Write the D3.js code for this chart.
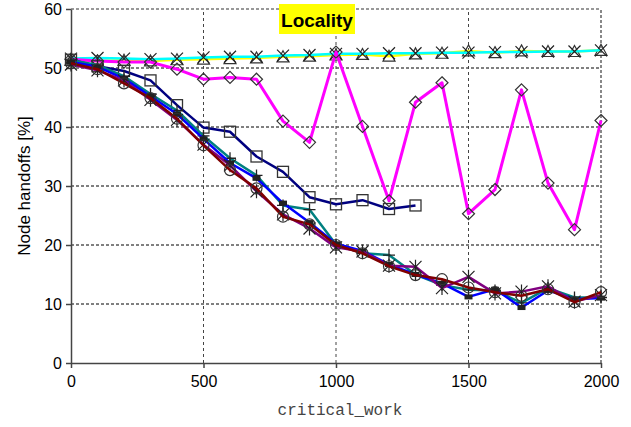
<!DOCTYPE html>
<html>
<head>
<meta charset="utf-8">
<script src="https://cdn.jsdelivr.net/npm/d3@7"></script>
<style>
  html, body { margin: 0; padding: 0; background: #fff; }
  svg { display: block; }
</style>
</head>
<body>
<svg id="chart" width="631" height="427"></svg>
<script>
const xValues = [0,100,200,300,400,500,600,700,800,900,1000,1100,1200,1300,1400,1500,1600,1700,1800,1900,2000];
const xTicks = [0,500,1000,1500,2000];
const yTicks = [0,10,20,30,40,50,60];

const yellowTri = [51.3,51.2,51.3,51.2,51.4,51.5,51.6,51.7,51.9,52.0,52.2,52.3,52.0,52.4,52.5,52.9,52.6,52.9,52.8,52.8,53.0];
const cyanX     = [51.6,51.7,51.6,51.5,51.6,51.8,51.9,51.9,52.1,52.2,52.4,52.4,52.5,52.5,52.6,52.6,52.7,52.7,52.8,52.8,53.0];
const magentaDiamond = [51.5,51.2,51.0,51.0,49.8,48.1,48.4,48.1,41.0,37.4,52.7,40.1,27.5,44.2,47.5,25.3,29.4,46.3,30.5,22.6,41.1];
const navySquare = [51.4,50.3,49.5,47.9,43.7,39.9,39.2,35.0,32.4,28.1,26.9,27.6,26.1,26.7];
const tealPlus   = [51.3,50.5,48.6,45.6,42.8,38.5,34.7,31.8,26.7,26.0,20.1,18.6,18.3,15.0,13.2,12.4,12.3,10.2,12.7,11.1,11.1];
const blueDash   = [51.0,50.2,48.2,45.2,42.2,38.0,33.9,31.3,27.1,23.8,20.2,19.0,16.7,15.0,13.5,11.2,12.5,9.4,12.3,10.8,11.0];
const purpleStar = [50.6,49.6,47.9,44.6,41.2,37.0,33.5,29.1,25.2,22.8,19.6,18.9,16.5,16.3,12.7,14.6,11.8,12.1,13.0,10.4,11.5];
const maroonCircle = [50.8,49.8,47.4,44.9,41.4,36.9,32.7,29.6,24.8,23.5,20.0,18.6,16.4,14.9,14.2,12.8,12.0,11.4,12.5,10.3,12.0];

const series = [
  {name:"yellow", values:yellowTri, color:"#FFFF00", marker:"triangle", width:2.5},
  {name:"cyan", values:cyanX, color:"#00FFFF", marker:"x", width:2.5},
  {name:"magenta", values:magentaDiamond, color:"#FF00FF", marker:"diamond", width:3},
  {name:"navy", values:navySquare, color:"#000080", marker:"square", width:2.5},
  {name:"teal", values:tealPlus, color:"#008080", marker:"plus", width:2.5},
  {name:"blue", values:blueDash, color:"#0000FF", marker:"dash", width:2.5},
  {name:"purple", values:purpleStar, color:"#800080", marker:"star", width:2.5},
  {name:"maroon", values:maroonCircle, color:"#800000", marker:"circle", width:2.5}
];

const svg = d3.select("#chart");
const x = d3.scaleLinear().domain([0,2000]).range([71,601]);
const y = d3.scaleLinear().domain([0,60]).range([363,9]);

// grid
const grid = svg.append("g");
yTicks.filter(v => v > 0 && v < 60).forEach(v => {
  grid.append("line").attr("x1", x(0)).attr("x2", x(2000)).attr("y1", y(v)).attr("y2", y(v))
    .attr("stroke", "#000").attr("stroke-width", 1).attr("stroke-dasharray", "3,2");
});
grid.append("line").attr("x1", x(0)).attr("x2", x(2000)).attr("y1", y(60)).attr("y2", y(60))
  .attr("stroke", "#777").attr("stroke-width", 1.5).attr("stroke-dasharray", "3,2");
xTicks.filter(v => v > 0 && v < 2000).forEach(v => {
  grid.append("line").attr("x1", x(v)).attr("x2", x(v)).attr("y1", y(0)).attr("y2", y(60))
    .attr("stroke", "#444").attr("stroke-width", 1).attr("stroke-dasharray", "3,3");
});
grid.append("line").attr("x1", x(2000)).attr("x2", x(2000)).attr("y1", y(0)).attr("y2", y(60))
  .attr("stroke", "#888").attr("stroke-width", 2).attr("stroke-dasharray", "3,2");

// axes
const yAxis = svg.append("g").attr("transform", `translate(${x(0)},0)`)
  .call(d3.axisLeft(y).tickValues(yTicks).tickSize(5).tickPadding(4).tickSizeOuter(0));
const xAxis = svg.append("g").attr("transform", `translate(0,${y(0)})`)
  .call(d3.axisBottom(x).tickValues(xTicks).tickSize(5).tickPadding(8).tickSizeOuter(0).tickFormat(d3.format("d")));
[yAxis, xAxis].forEach(a => {
  a.selectAll("path.domain").attr("stroke", "#444").attr("stroke-width", 1.5);
  a.selectAll(".tick line").attr("stroke", "#444").attr("stroke-width", 1.5);
  a.selectAll("text").attr("fill", "#000").attr("font-family", "Liberation Sans, Arial, sans-serif").attr("font-size", 16);
});

// series
const line = d3.line().x((d,i) => x(xValues[i])).y(d => y(d));
function drawMarker(g, type, cx, cy) {
  const s = "#333";
  if (type === "triangle") {
    g.append("path").attr("d", `M${cx},${cy-6}L${cx+6},${cy+5}L${cx-6},${cy+5}Z`).attr("fill","none").attr("stroke",s).attr("stroke-width",1.2);
  } else if (type === "x") {
    g.append("path").attr("d", `M${cx-6},${cy-6}L${cx+6},${cy+6}M${cx-6},${cy+6}L${cx+6},${cy-6}`).attr("stroke","#222").attr("stroke-width",1.2);
  } else if (type === "diamond") {
    g.append("path").attr("d", `M${cx},${cy-6}L${cx+6},${cy}L${cx},${cy+6}L${cx-6},${cy}Z`).attr("fill","none").attr("stroke",s).attr("stroke-width",1.2);
  } else if (type === "square") {
    g.append("rect").attr("x", cx-5.5).attr("y", cy-5.5).attr("width", 11).attr("height", 11).attr("fill","none").attr("stroke",s).attr("stroke-width",1.3);
  } else if (type === "plus") {
    g.append("path").attr("d", `M${cx-6},${cy}L${cx+6},${cy}M${cx},${cy-6}L${cx},${cy+6}`).attr("stroke","#222").attr("stroke-width",1.3);
  } else if (type === "dash") {
    g.append("rect").attr("x", cx-4).attr("y", cy-2.5).attr("width", 8).attr("height", 5).attr("fill","#222");
  } else if (type === "star") {
    g.append("path").attr("d", `M${cx-6},${cy-6}L${cx+6},${cy+6}M${cx-6},${cy+6}L${cx+6},${cy-6}M${cx},${cy-7}L${cx},${cy+7}`).attr("stroke","#222").attr("stroke-width",1.2);
  } else if (type === "circle") {
    g.append("circle").attr("cx", cx).attr("cy", cy).attr("r", 5.5).attr("fill","none").attr("stroke",s).attr("stroke-width",1.2);
  }
}
series.forEach(sr => {
  const g = svg.append("g");
  g.append("path").datum(sr.values).attr("d", line).attr("fill","none")
    .attr("stroke", sr.color).attr("stroke-width", sr.width).attr("stroke-linejoin","round");
  sr.values.forEach((v,i) => drawMarker(g, sr.marker, x(xValues[i]), y(v)));
});

// title box
const tg = svg.append("g");
tg.append("rect").attr("x", 279).attr("y", 4).attr("width", 76).attr("height", 30).attr("fill", "#FFFF00");
tg.append("text").attr("x", 317).attr("y", 27).attr("text-anchor","middle")
  .attr("font-family","Liberation Sans, Arial, sans-serif").attr("font-weight","bold").attr("font-size",19)
  .text("Locality");

// axis titles
svg.append("text").attr("transform", `translate(30,${y(30)}) rotate(-90)`).attr("text-anchor","middle")
  .attr("font-family","Liberation Sans, Arial, sans-serif").attr("font-size",17).text("Node handoffs [%]");
svg.append("text").attr("x", 340).attr("y", 415).attr("text-anchor","middle")
  .attr("font-family","Liberation Mono, Courier New, monospace").attr("font-size",16).attr("fill","#444").text("critical_work");
</script>
</body>
</html>
